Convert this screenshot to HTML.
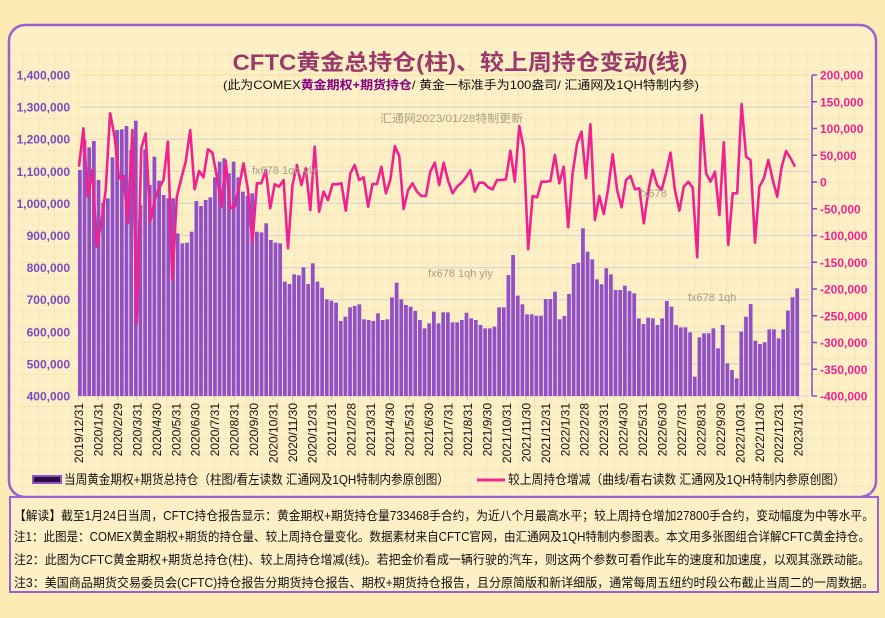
<!DOCTYPE html>
<html><head><meta charset="utf-8">
<style>
html,body{margin:0;padding:0;background:#fdebb3;}
svg{display:block;font-family:"Liberation Sans","Noto Sans CJK SC",sans-serif;}
</style></head>
<body>
<svg id="s" width="885" height="618" xmlns="http://www.w3.org/2000/svg">
<defs>
<pattern id="g" x="6" y="6" width="16" height="16" patternUnits="userSpaceOnUse">
<path d="M0 0H16M0 0V16" stroke="#f0dca8" stroke-width="1" fill="none"/>
</pattern>
</defs>
<rect width="885" height="618" fill="#fdebb3"/>
<rect x="9" y="25" width="867" height="472" rx="16" fill="#fdf0c6" stroke="#9b5fd0" stroke-width="2.5"/>
<rect x="12" y="50" width="861" height="444" fill="url(#g)"/>
<rect x="10" y="497" width="868" height="95" fill="#fdf0c6" stroke="#9b5fd0" stroke-width="2"/>
<g id="plot"></g>
<text x="460" y="70" text-anchor="middle" font-size="22" font-weight="bold" fill="#9a3a6a" textLength="455" lengthAdjust="spacingAndGlyphs">CFTC黄金总持仓(柱)、较上周持仓变动(线)</text>
<text x="461" y="89" text-anchor="middle" font-size="12" fill="#111" textLength="476" lengthAdjust="spacingAndGlyphs">(此为COMEX<tspan fill="#800080" font-weight="bold">黄金期权+期货持仓</tspan>/ 黄金一标准手为100盎司/ 汇通网及1QH特制内参)</text>
<g fill="#a89f86" font-size="11">
<text x="380" y="122" textLength="143" lengthAdjust="spacingAndGlyphs">汇通网2023/01/28特制更新</text>
<text x="252" y="174">fx678 1qh yly</text>
<text x="428" y="277">fx678 1qh   yly</text>
<text x="688" y="301">fx678   1qh</text>
<text x="640" y="197">fx678</text>
</g>
<rect x="33" y="476" width="28" height="7" fill="#2a1040" stroke="#9150c8" stroke-width="2"/>
<text x="64" y="484" font-size="13" fill="#111" textLength="385" lengthAdjust="spacingAndGlyphs">当周黄金期权+期货总持仓（柱图/看左读数 汇通网及1QH特制内参原创图）</text>
<line x1="477" y1="480" x2="505" y2="480" stroke="#f0288f" stroke-width="3"/>
<text x="508" y="484" font-size="13" fill="#111" textLength="337" lengthAdjust="spacingAndGlyphs">较上周持仓增减（曲线/看右读数 汇通网及1QH特制内参原创图）</text>
<g font-size="12.5" fill="#111">
<text x="14" y="520" textLength="860" lengthAdjust="spacingAndGlyphs">【解读】截至1月24日当周，CFTC持仓报告显示：黄金期权+期货持仓量733468手合约，为近八个月最高水平；较上周持仓增加27800手合约，变动幅度为中等水平。</text>
<text x="14" y="541" textLength="856" lengthAdjust="spacingAndGlyphs">注1：此图是：COMEX黄金期权+期货的持仓量、较上周持仓量变化。数据素材来自CFTC官网，由汇通网及1QH特制内参图表。本文用多张图组合详解CFTC黄金持仓。</text>
<text x="14" y="564" textLength="856" lengthAdjust="spacingAndGlyphs">注2：此图为CFTC黄金期权+期货总持仓(柱)、较上周持仓增减(线)。若把金价看成一辆行驶的汽车，则这两个参数可看作此车的速度和加速度，以观其涨跌动能。</text>
<text x="14" y="587" textLength="860" lengthAdjust="spacingAndGlyphs">注3：美国商品期货交易委员会(CFTC)持仓报告分期货持仓报告、期权+期货持仓报告，且分原简版和新详细版，通常每周五纽约时段公布截止当周二的一周数据。</text>
</g>
</svg>
<script>
var NS="http://www.w3.org/2000/svg",P=document.getElementById("plot");
function el(t,a,txt){var e=document.createElementNS(NS,t);for(var k in a)e.setAttribute(k,a[k]);if(txt!=null)e.textContent=txt;P.appendChild(e);return e;}
var L=78,R=806,T=75,B=396;
// horizontal gridlines
for(var i=0;i<=10;i++){var y=T+i*(B-T)/10;el("line",{x1:L,x2:810,y1:y,y2:y,stroke:"#d9d6cf","stroke-width":1.2});}
el("line",{x1:L,x2:L,y1:T,y2:B,stroke:"#fde79a","stroke-width":1});
el("line",{x1:L,x2:810,y1:T,y2:T,stroke:"#fde79a","stroke-width":1});
var bz3=[240,150,172,153,270,338,325,202,120,118,108,180,92,345,178,285,200,272,315,325,325,430,460,458,425,333,348,330,322,262,215,205,250,215,262,305,318,310,425,427,400,450,458,460,575,582,553,556,532,582,520,575,593,628,632,638,693,680,652,648,643,688,690,693,670,690,688,622,578,628,645,650,663,690,715,700,665];
var bz4=[700,667,667,697,697,690,668,685,690,705,715,715,710,652,652,555,495,617,643,673,673,677,677,627,627,605,688,678,612,522,518,415,485,508,568,583,535,553,600,600,587,603,610,685,702,683,685,705,685,633,650,705,712,712,727,860,742,730,730,715,775,705,820,840,865,725,680,642,752,762,757,718,718,745,718,662,622,595];
var bars=bz3.concat(bz4).map(function(z){return 90+z/3;});
var n=bars.length,bw=(800-L)/n;
for(var i=0;i<n;i++){el("rect",{x:L+i*bw,y:bars[i],width:bw-0.9,height:B-bars[i],fill:"#9150c8"});}
var lz3=[230,115,320,240,470,400,300,70,140,265,258,400,120,700,175,130,395,330,295,270,155,570,320,265,215,120,298,243,262,178,188,260,350,213,355,350,290,220,300,460,280,280,240,355,283,290,270,475,285,225,285,235,360,170,365,305,330,283,283,280,362,250,225,270,262,350,282,282,230,310,270,168,198,357,300,280,305,318,318,245,218];
var lz4=[285,218,272,310,290,278,262,240,305,278,278,292,298,270,270,268,182,275,108,175,478,318,322,275,275,273,195,280,230,412,250,160,125,265,103,390,318,372,295,193,300,352,270,258,298,295,400,305,240,285,300,250,188,300,362,290,275,293,502,75,250,275,245,375,157,465,310,310,42,200,210,458,290,265,210,270,320,230,183,205,230];
var ln=lz3.concat(lz4).map(function(z){return 90+z/3;}),m=ln.length,pts=[];
for(var i=0;i<m;i++)pts.push((79+i*(795-79)/(m-1)).toFixed(1)+","+ln[i].toFixed(1));
el("polyline",{points:pts.join(" "),fill:"none",stroke:"#f0228f","stroke-width":2.6,"stroke-linejoin":"round"});
// left axis
for(var i=0;i<=10;i++){var v=1400000-i*100000,y=T+i*(B-T)/10;
el("text",{x:70,y:y+4.5,"text-anchor":"end","font-size":12,"font-weight":"bold",fill:"#7a48c0"},v.toLocaleString("en-US"));}
// right axis
el("line",{x1:812,x2:812,y1:T,y2:B,stroke:"#8a4cc0","stroke-width":1.5});
for(var i=0;i<=12;i++){var v=200000-i*50000,y=T+i*(B-T)/12;
el("line",{x1:812,x2:817,y1:y,y2:y,stroke:"#8a4cc0","stroke-width":1.5});
el("text",{x:820,y:y+4.5,"font-size":12,"font-weight":"bold",fill:"#f0228f"},v.toLocaleString("en-US"));}
// x labels
var y0=2019,mo=12,days=[31,31,29,31,30,31,30,31,31,30,31,30,31];
function dim(y,m){return [31,(y%4==0)?29:28,31,30,31,30,31,31,30,31,30,31][m-1];}
for(var i=0;i<38;i++){var yy=2019+Math.floor((11+i)/12),mm=(11+i)%12+1;
var x=78.5+i*19.45;
el("text",{x:0,y:0,"font-size":12,fill:"#111","text-anchor":"end",transform:"translate("+(x+4.5)+",403) rotate(-90)"},yy+"/"+mm+"/"+dim(yy,mm));
el("line",{x1:x,x2:x,y1:396,y2:400,stroke:"#ccc"});}
</script>
</body></html>
